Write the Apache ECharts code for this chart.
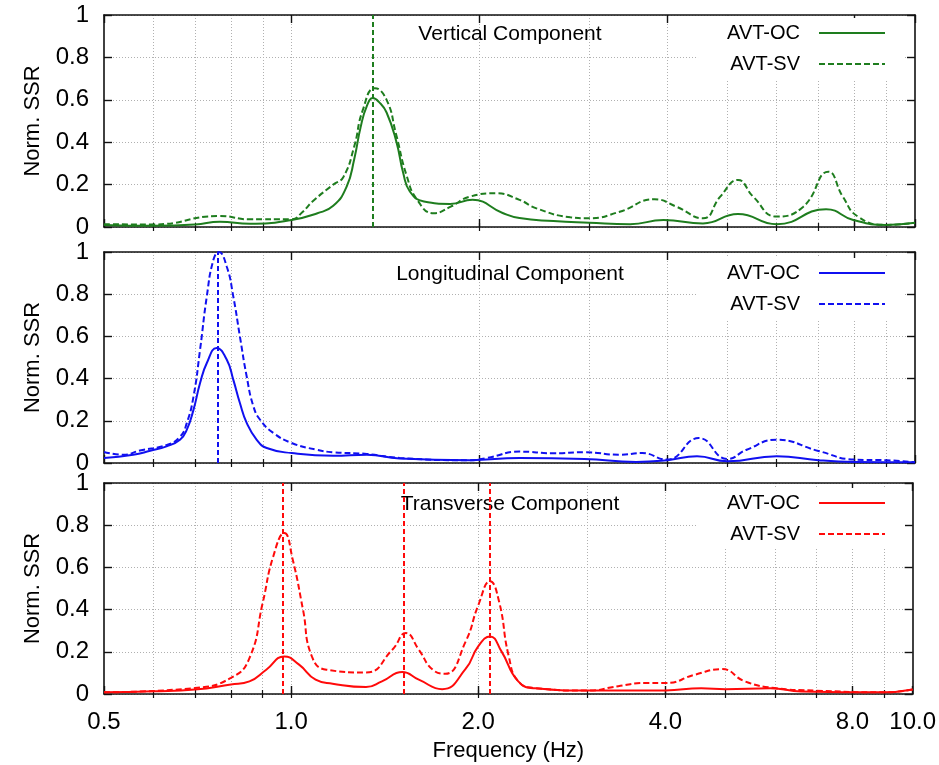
<!DOCTYPE html>
<html>
<head>
<meta charset="utf-8">
<script src="https://cdn.jsdelivr.net/npm/echarts@6/dist/echarts.min.js"></script>
<style>
html,body{margin:0;padding:0;background:#fff;}
#chart{width:939px;height:765px;}
</style>
</head>
<body>
<div id="chart"></div>
<script>
// ---------- data ----------
var xMajorTicks = [0.5, 1, 2, 4, 8, 10];
var xGridTicks = [0.6, 0.7, 0.8, 0.9, 1, 2, 3, 4, 5, 6, 7, 8, 9];
var panelTitles = ['Vertical Component', 'Longitudinal Component', 'Transverse Component'];
var panelColors = ['#1e7d1e', '#1010f0', '#ff0a0a'];
var seriesNames = ['AVT-OC', 'AVT-SV'];

// Vertical
var vertOCFreq = [0.5, 0.6, 0.7, 0.767, 0.857, 1.0, 1.1, 1.166, 1.225, 1.26, 1.29, 1.32, 1.35, 1.38, 1.42, 1.473, 1.51, 1.548, 1.63, 1.795, 1.95, 2.18, 2.32, 2.63, 3.0, 3.49, 3.95, 4.57, 5.2, 6.0, 7.2, 7.96, 9.0, 10];
var vertOC     = [0.01, 0.006, 0.012, 0.025, 0.015, 0.033, 0.065, 0.10, 0.19, 0.32, 0.47, 0.57, 0.608, 0.59, 0.54, 0.40, 0.255, 0.167, 0.12, 0.109, 0.128, 0.066, 0.042, 0.028, 0.02, 0.013, 0.033, 0.017, 0.061, 0.013, 0.084, 0.033, 0.01, 0.02];
var vertSVFreq = [0.5, 0.6, 0.767, 0.857, 1.0, 1.04, 1.08, 1.166, 1.21, 1.26, 1.30, 1.36, 1.42, 1.47, 1.53, 1.59, 1.69, 1.8, 1.93, 2.13, 2.32, 2.47, 2.8, 3.0, 3.36, 3.82, 4.14, 4.57, 4.87, 5.2, 5.5, 6.0, 6.62, 7.26, 7.66, 8.1, 9.0, 10];
var vertSV     = [0.013, 0.012, 0.052, 0.036, 0.036, 0.07, 0.12, 0.20, 0.235, 0.38, 0.55, 0.655, 0.60, 0.44, 0.24, 0.128, 0.065, 0.096, 0.143, 0.159, 0.128, 0.088, 0.046, 0.041, 0.072, 0.131, 0.096, 0.041, 0.143, 0.222, 0.143, 0.049, 0.096, 0.261, 0.143, 0.049, 0.01, 0.02];

// Longitudinal
var longOCFreq = [0.5, 0.557, 0.593, 0.630, 0.662, 0.679, 0.696, 0.713, 0.731, 0.758, 0.787, 0.806, 0.826, 0.847, 0.879, 0.912, 1.0, 1.166, 1.32, 1.49, 1.93, 2.32, 2.95, 3.57, 4.0, 4.47, 5.0, 6.0, 7.0, 8.0, 10];
var longOC     = [0.024, 0.039, 0.058, 0.079, 0.11, 0.158, 0.253, 0.379, 0.474, 0.545, 0.489, 0.395, 0.284, 0.19, 0.11, 0.071, 0.047, 0.034, 0.039, 0.021, 0.013, 0.024, 0.019, 0.005, 0.013, 0.032, 0.008, 0.032, 0.013, 0.005, 0.003];
var longSVFreq = [0.5, 0.537, 0.571, 0.630, 0.662, 0.679, 0.696, 0.713, 0.731, 0.749, 0.764, 0.787, 0.806, 0.826, 0.847, 0.868, 0.89, 0.935, 1.0, 1.095, 1.166, 1.32, 1.49, 1.93, 2.06, 2.32, 2.63, 2.95, 3.36, 3.65, 4.0, 4.5, 5.0, 5.37, 6.0, 7.0, 8.0, 9.0, 10];
var longSV     = [0.052, 0.039, 0.059, 0.085, 0.124, 0.19, 0.316, 0.537, 0.79, 0.963, 1.0, 0.93, 0.79, 0.60, 0.41, 0.27, 0.205, 0.142, 0.095, 0.063, 0.051, 0.043, 0.024, 0.013, 0.024, 0.054, 0.046, 0.051, 0.039, 0.047, 0.016, 0.118, 0.019, 0.063, 0.11, 0.057, 0.016, 0.013, 0.003];

// Transverse
var tranOCFreq = [0.5, 0.6, 0.7, 0.8, 0.857, 0.912, 0.975, 1.03, 1.095, 1.166, 1.32, 1.40, 1.51, 1.605, 1.75, 1.91, 2.0, 2.09, 2.18, 2.32, 2.47, 3.0, 4.0, 4.57, 5.0, 5.9, 6.62, 9.0, 10];
var tranOC     = [0.008, 0.013, 0.021, 0.045, 0.060, 0.115, 0.178, 0.139, 0.068, 0.049, 0.033, 0.060, 0.104, 0.068, 0.023, 0.12, 0.226, 0.273, 0.202, 0.060, 0.027, 0.016, 0.017, 0.027, 0.023, 0.027, 0.012, 0.008, 0.021];
var tranSVFreq = [0.5, 0.7, 0.8, 0.857, 0.9, 0.936, 0.975, 1.006, 1.045, 1.08, 1.14, 1.32, 1.455, 1.53, 1.605, 1.69, 1.77, 1.91, 2.0, 2.09, 2.16, 2.24, 2.32, 2.47, 3.0, 3.36, 3.71, 4.0, 4.47, 4.93, 5.37, 6.0, 7.0, 9.0, 10];
var tranSV     = [0.008, 0.028, 0.076, 0.17, 0.431, 0.652, 0.763, 0.637, 0.40, 0.178, 0.115, 0.102, 0.21, 0.289, 0.21, 0.115, 0.096, 0.25, 0.42, 0.534, 0.44, 0.178, 0.06, 0.028, 0.016, 0.037, 0.052, 0.052, 0.092, 0.118, 0.06, 0.028, 0.016, 0.008, 0.021];

// marker frequencies (vertical dashed lines)
var vertMarks = [1.35];
var longMarks = [0.762];
var tranMarks = [0.975, 1.524, 2.094];

var panelData = [
  {oc: [vertOCFreq, vertOC], sv: [vertSVFreq, vertSV], marks: vertMarks},
  {oc: [longOCFreq, longOC], sv: [longSVFreq, longSV], marks: longMarks},
  {oc: [tranOCFreq, tranOC], sv: [tranSVFreq, tranSV], marks: tranMarks}
];

// ---------- layout ----------
var FONT = '"Liberation Sans", Arial, Helvetica, sans-serif';
var gridTops = [15, 252, 483];
var gridHeights = [212, 211, 211];
var legendTops = [18, 258, 488];
var titleTops = [24, 264, 494];

function zip(f, v) { return f.map(function (x, i) { return [x, v[i]]; }); }

var grids = [], xAxes = [], yAxes = [], series = [], legends = [], titles = [];

for (var p = 0; p < 3; p++) {
  grids.push({left: 104, width: 811, top: gridTops[p], height: gridHeights[p], containLabel: false});
  var base = {type: 'log', logBase: 10, min: 0.5, max: 10, gridIndex: p};
  var isLast = (p === 2);
  // main bottom
  xAxes.push(Object.assign({}, base, {
    position: 'bottom',
    axisLine: {show: true, onZero: false, lineStyle: {color: '#111', width: 1.6}},
    axisTick: {show: true, inside: true, length: 8, customValues: xMajorTicks, lineStyle: {color: '#111', width: 1.4}},
    axisLabel: {show: isLast, customValues: xMajorTicks, margin: 16, color: '#000', fontSize: 24, fontFamily: FONT,
      formatter: function (v) { return Number(v).toFixed(1); }},
    splitLine: {show: false},
    name: isLast ? 'Frequency (Hz)' : '',
    nameLocation: 'middle', nameGap: 46,
    nameTextStyle: {color: '#000', fontSize: 22, fontFamily: FONT}
  }));
  // minor bottom + grid lines
  xAxes.push(Object.assign({}, base, {
    position: 'bottom',
    axisLine: {show: false},
    axisTick: {show: true, inside: true, length: 4, customValues: xGridTicks, lineStyle: {color: '#111', width: 1.2}},
    axisLabel: {show: false},
    splitLine: {show: true, lineStyle: {color: '#b0b0b0', width: 1, type: [1, 2]}}
  }));
  // top main
  xAxes.push(Object.assign({}, base, {
    position: 'top',
    axisLine: {show: true, onZero: false, lineStyle: {color: '#111', width: 1.6}},
    axisTick: {show: true, inside: true, length: 8, customValues: xMajorTicks, lineStyle: {color: '#111', width: 1.4}},
    axisLabel: {show: false},
    splitLine: {show: false}
  }));
  // top minor
  xAxes.push(Object.assign({}, base, {
    position: 'top',
    axisLine: {show: false},
    axisTick: {show: true, inside: true, length: 4, customValues: xGridTicks, lineStyle: {color: '#111', width: 1.2}},
    axisLabel: {show: false},
    splitLine: {show: false}
  }));

  yAxes.push({
    type: 'value', gridIndex: p, min: 0, max: 1, interval: 0.2, position: 'left',
    axisLine: {show: true, onZero: false, lineStyle: {color: '#111', width: 1.6}},
    axisTick: {show: true, inside: true, length: 8, lineStyle: {color: '#111', width: 1.4}},
    axisLabel: {margin: 15, color: '#000', fontSize: 24, fontFamily: FONT},
    splitLine: {show: true, lineStyle: {color: '#b0b0b0', width: 1, type: [1, 2]}},
    name: 'Norm. SSR', nameLocation: 'middle', nameGap: 60,
    nameTextStyle: {color: '#000', fontSize: 22, fontFamily: FONT}
  });
  yAxes.push({
    type: 'value', gridIndex: p, min: 0, max: 1, interval: 0.2, position: 'right',
    axisLine: {show: true, onZero: false, lineStyle: {color: '#111', width: 1.6}},
    axisTick: {show: true, inside: true, length: 8, lineStyle: {color: '#111', width: 1.4}},
    axisLabel: {show: false},
    splitLine: {show: false}
  });

  var col = panelColors[p];
  var d = panelData[p];
  var tag = '|' + p;
  series.push({
    name: seriesNames[0] + tag, type: 'line', xAxisIndex: p * 4, yAxisIndex: p * 2,
    data: zip(d.oc[0], d.oc[1]), smooth: 0.5, symbol: 'none', z: 3,
    lineStyle: {color: col, width: 2}, itemStyle: {color: col},
    markLine: {
      silent: true, symbol: ['none', 'none'], label: {show: false},
      lineStyle: {color: col, type: [5, 3], width: 2},
      emphasis: {disabled: true},
      data: d.marks.map(function (m) { return {xAxis: m}; })
    }
  });
  series.push({
    name: seriesNames[1] + tag, type: 'line', xAxisIndex: p * 4, yAxisIndex: p * 2,
    data: zip(d.sv[0], d.sv[1]), smooth: 0.5, symbol: 'none', z: 3,
    lineStyle: {color: col, width: 2, type: [6, 3]}, itemStyle: {color: col}
  });

  legends.push({
    data: [seriesNames[0] + tag, seriesNames[1] + tag],
    orient: 'vertical', align: 'right', right: 34, top: legendTops[p],
    itemWidth: 66, itemHeight: 20, itemGap: 11,
    padding: [5, 19, 5, 29],
    backgroundColor: '#fff',
    selectedMode: false,
    itemStyle: {opacity: 0},
    formatter: function (n) { return n.split('|')[0]; },
    textStyle: {color: '#000', fontSize: 20, fontFamily: FONT, padding: [0, 14, 0, 0]}
  });

  titles.push({
    text: panelTitles[p], left: 510, top: titleTops[p], textAlign: 'center', padding: 0, z: 1,
    textStyle: {color: '#000', fontSize: 21, fontWeight: 'normal', fontFamily: FONT}
  });
}

var chart = echarts.init(document.getElementById('chart'), null, {renderer: 'canvas'});
chart.setOption({
  animation: false,
  backgroundColor: '#fff',
  title: titles,
  legend: legends,
  grid: grids,
  xAxis: xAxes,
  yAxis: yAxes,
  series: series
});
</script>
</body>
</html>
